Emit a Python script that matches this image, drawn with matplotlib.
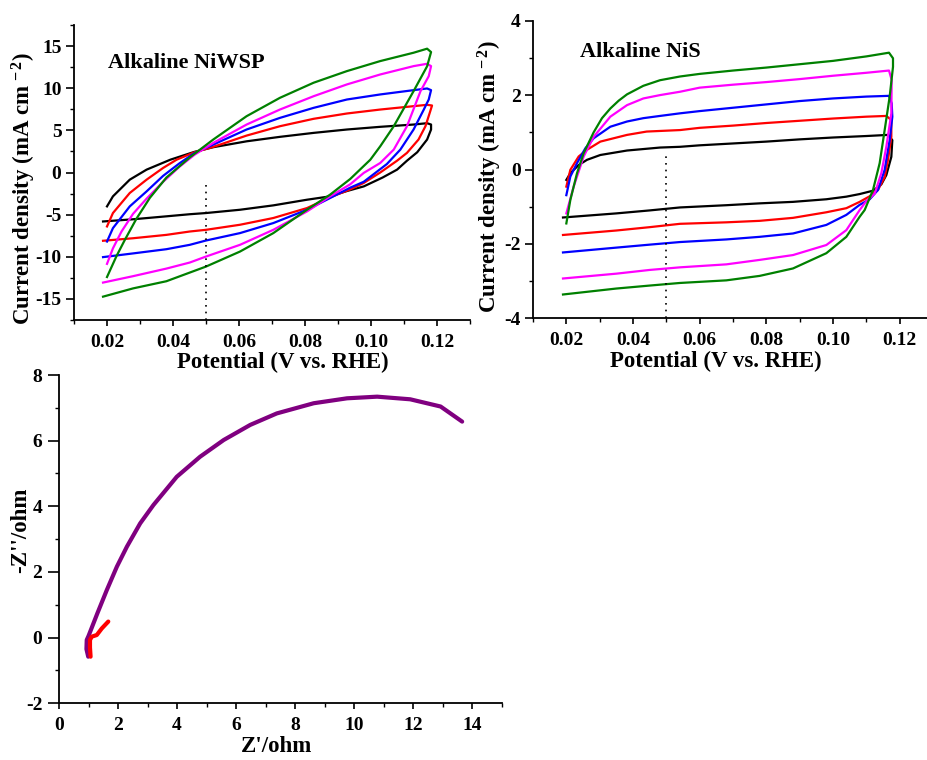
import matplotlib
matplotlib.use("Agg")
import matplotlib.pyplot as plt
from matplotlib.ticker import MultipleLocator, FormatStrFormatter

plt.rcParams['font.family'] = ['Liberation Serif', 'DejaVu Serif']
plt.rcParams['font.weight'] = 'bold'
plt.rcParams['axes.unicode_minus'] = False
plt.rcParams['mathtext.fontset'] = 'custom'
plt.rcParams['mathtext.rm'] = 'Liberation Serif:bold'
plt.rcParams['mathtext.bf'] = 'Liberation Serif:bold'
plt.rcParams['mathtext.it'] = 'Liberation Serif:bold:italic'

# ---------------- Data: Alkaline NiWSP (CV) ----------------
niwsp_black_x = [0.020, 0.0218, 0.0269, 0.032, 0.0392, 0.0465, 0.0522, 0.0623, 0.0724, 0.0826, 0.0927, 0.1028, 0.1129, 0.117,
                 0.1182, 0.1182, 0.117, 0.114, 0.1109, 0.1079, 0.1035, 0.0978, 0.0927, 0.0876, 0.0806, 0.0704, 0.0603, 0.050, 0.0451, 0.038, 0.0279, 0.0188]
niwsp_black_y = [-4.02, -2.83, -0.85, 0.34, 1.52, 2.45, 3.0, 3.7, 4.23, 4.7, 5.1, 5.42, 5.69, 5.85,
                 5.69, 5.1, 3.91, 2.4, 1.4, 0.34, -0.6, -1.65, -2.2, -2.83, -3.23, -3.9, -4.42, -4.81, -4.95, -5.2, -5.55, -5.81]

niwsp_red_x = [0.020, 0.0218, 0.0269, 0.032, 0.037, 0.0411, 0.0465, 0.0522, 0.0623, 0.0724, 0.0826, 0.0927, 0.1028, 0.1129, 0.117,
               0.1185, 0.1178, 0.1165, 0.1144, 0.1109, 0.1079, 0.1028, 0.0978, 0.0937, 0.0876, 0.0806, 0.0704, 0.0603, 0.050, 0.0451, 0.038, 0.0279, 0.0188]
niwsp_red_y = [-6.4, -4.81, -2.43, -0.85, 0.54, 1.52, 2.4, 3.04, 4.38, 5.49, 6.37, 7.0, 7.47, 7.87, 8.03,
               7.95, 7.08, 5.49, 3.91, 2.33, 1.4, 0.0, -1.24, -2.0, -2.95, -4.22, -5.4, -6.2, -6.8, -7.0, -7.4, -7.8, -8.1]

niwsp_blue_x = [0.020, 0.0218, 0.0269, 0.032, 0.037, 0.042, 0.0465, 0.0522, 0.0623, 0.0724, 0.0826, 0.0927, 0.1028, 0.1129, 0.117,
                0.1182, 0.1175, 0.116, 0.1129, 0.1089, 0.1048, 0.0978, 0.0937, 0.0876, 0.0806, 0.0704, 0.0603, 0.050, 0.0451, 0.038, 0.0279, 0.0188]
niwsp_blue_y = [-8.19, -6.6, -4.02, -2.24, -0.4, 1.1, 2.3, 3.31, 5.1, 6.48, 7.67, 8.66, 9.26, 9.77, 9.97,
                9.77, 8.66, 7.47, 5.1, 2.72, 1.0, -1.1, -1.8, -3.03, -4.42, -6.0, -7.19, -8.07, -8.58, -9.1, -9.6, -10.04]

niwsp_magenta_x = [0.020, 0.0218, 0.0244, 0.0279, 0.032, 0.037, 0.042, 0.0465, 0.0522, 0.0623, 0.0724, 0.0826, 0.0927, 0.1028, 0.1129, 0.117,
                   0.1182, 0.1175, 0.115, 0.1109, 0.1069, 0.1028, 0.0978, 0.0937, 0.0876, 0.0806, 0.0704, 0.0603, 0.050, 0.0451, 0.038, 0.0279, 0.0188]
niwsp_magenta_y = [-10.84, -9.0, -7.0, -4.9, -3.1, -1.1, 0.7, 2.1, 3.51, 5.69, 7.47, 9.05, 10.45, 11.63, 12.62, 12.9,
                   12.62, 11.43, 9.65, 5.49, 2.72, 1.13, -0.05, -1.4, -2.83, -4.62, -6.8, -8.58, -9.97, -10.68, -11.4, -12.3, -13.06]

niwsp_green_x = [0.020, 0.0229, 0.0254, 0.0289, 0.033, 0.038, 0.0451, 0.0522, 0.0623, 0.0724, 0.0826, 0.0927, 0.1028, 0.1129, 0.117,
                 0.1182, 0.117, 0.1129, 0.1069, 0.1028, 0.0998, 0.0937, 0.0876, 0.0806, 0.0704, 0.0603, 0.050, 0.0451, 0.038, 0.0279, 0.0188]
niwsp_green_y = [-12.4, -9.9, -8.0, -5.5, -3.0, -0.6, 1.8, 3.91, 6.68, 8.86, 10.65, 12.03, 13.22, 14.21, 14.69,
                 14.29, 12.6, 9.65, 5.49, 3.11, 1.52, -0.77, -2.63, -4.42, -7.19, -9.38, -11.16, -11.87, -12.9, -13.75, -14.73]

# ---------------- Data: Alkaline NiS (CV) ----------------
nis_black_x = [0.020, 0.0212, 0.0237, 0.0262, 0.0302, 0.0382, 0.0481, 0.0541, 0.06, 0.07, 0.08, 0.09, 0.10, 0.11, 0.1165,
               0.1178, 0.1175, 0.116, 0.1145, 0.112, 0.108, 0.104, 0.098, 0.088, 0.078, 0.068, 0.0541, 0.045, 0.035, 0.019]
nis_black_y = [-0.28, -0.1, 0.12, 0.26, 0.39, 0.51, 0.59, 0.61, 0.65, 0.7, 0.75, 0.81, 0.86, 0.9, 0.93,
               0.79, 0.34, -0.15, -0.4, -0.57, -0.66, -0.73, -0.80, -0.87, -0.91, -0.96, -1.02, -1.1, -1.18, -1.29]

nis_red_x = [0.020, 0.0212, 0.0237, 0.0262, 0.0302, 0.0382, 0.0441, 0.0541, 0.06, 0.07, 0.08, 0.09, 0.10, 0.11, 0.116,
             0.1175, 0.1175, 0.1165, 0.1155, 0.1135, 0.111, 0.108, 0.104, 0.098, 0.088, 0.078, 0.068, 0.0541, 0.045, 0.035, 0.019]
nis_red_y = [-0.46, -0.01, 0.35, 0.53, 0.75, 0.93, 1.02, 1.06, 1.12, 1.18, 1.25, 1.31, 1.37, 1.42, 1.44,
             1.33, 0.88, 0.26, -0.2, -0.55, -0.72, -0.87, -1.04, -1.15, -1.30, -1.38, -1.42, -1.46, -1.55, -1.64, -1.76]

nis_blue_x = [0.020, 0.0212, 0.0232, 0.0257, 0.0282, 0.0332, 0.0382, 0.0431, 0.0481, 0.0541, 0.06, 0.07, 0.08, 0.09, 0.10, 0.11, 0.1168,
              0.1176, 0.1178, 0.117, 0.1155, 0.1135, 0.111, 0.108, 0.104, 0.098, 0.088, 0.078, 0.068, 0.0541, 0.045, 0.035, 0.019]
nis_blue_y = [-0.69, -0.19, 0.17, 0.57, 0.84, 1.15, 1.29, 1.38, 1.44, 1.51, 1.57, 1.66, 1.75, 1.84, 1.91, 1.96, 1.98,
              1.78, 1.42, 0.79, -0.01, -0.55, -0.8, -0.95, -1.22, -1.49, -1.72, -1.81, -1.88, -1.95, -2.02, -2.1, -2.23]

nis_magenta_x = [0.020, 0.0222, 0.0252, 0.0282, 0.0332, 0.0382, 0.0431, 0.0481, 0.0541, 0.06, 0.07, 0.08, 0.09, 0.10, 0.11, 0.1168,
                 0.1176, 0.1175, 0.116, 0.1145, 0.1125, 0.110, 0.108, 0.104, 0.098, 0.088, 0.078, 0.068, 0.0541, 0.045, 0.035, 0.019]
nis_magenta_y = [-1.18, -0.46, 0.35, 0.88, 1.42, 1.73, 1.91, 2.0, 2.09, 2.2, 2.28, 2.35, 2.43, 2.52, 2.6, 2.66,
                 2.41, 1.51, 0.61, -0.1, -0.65, -0.85, -1.09, -1.63, -2.03, -2.30, -2.43, -2.55, -2.63, -2.7, -2.8, -2.93]

nis_green_x = [0.020, 0.0212, 0.0232, 0.0252, 0.0282, 0.0307, 0.0332, 0.0357, 0.0382, 0.0431, 0.0481, 0.0541, 0.06, 0.07, 0.08, 0.09, 0.10, 0.11, 0.1168,
               0.118, 0.118, 0.117, 0.1155, 0.114, 0.112, 0.1095, 0.108, 0.104, 0.098, 0.088, 0.078, 0.068, 0.0541, 0.045, 0.035, 0.019]
nis_green_y = [-1.45, -0.82, -0.10, 0.44, 1.0, 1.38, 1.64, 1.85, 2.02, 2.25, 2.4, 2.5, 2.57, 2.66, 2.74, 2.83, 2.92, 3.04, 3.14,
               2.99, 2.76, 1.96, 1.06, 0.17, -0.55, -1.09, -1.27, -1.81, -2.25, -2.66, -2.86, -2.98, -3.05, -3.12, -3.2, -3.36]

# ---------------- Data: Nyquist ----------------
nyq_purple_x = [0.99, 0.93, 0.94, 1.0, 1.3, 1.62, 1.96, 2.3, 2.75, 3.2, 3.99, 4.78, 5.58, 6.48, 7.38, 8.63, 9.76, 10.78, 11.9, 12.93, 13.66]
nyq_purple_y = [-0.58, -0.35, -0.07, 0.05, 0.74, 1.45, 2.16, 2.77, 3.48, 4.04, 4.9, 5.51, 6.02, 6.48, 6.83, 7.14, 7.29, 7.34, 7.26, 7.04, 6.58]
nyq_red_x = [1.07, 1.05, 1.05, 1.11, 1.28, 1.45, 1.67]
nyq_red_y = [-0.58, -0.3, -0.07, 0.03, 0.08, 0.28, 0.49]

dotted_x = 0.05
dotted1_y = [-17.5, -1.5]
dotted2_y = [-4.0, 0.4]

cv_colors = ['black', '#ff0000', '#0000ff', '#ff00ff', '#008000']

W, H = 928, 760
fig = plt.figure(figsize=(W / 100, H / 100), dpi=100)

TICK_FS = 14
LABEL_FS = 16.5
NOTE_FS = 16


def px_axes(l, t, r, b):
    return fig.add_axes([l / W, 1 - b / H, (r - l) / W, (b - t) / H])


def style(ax):
    for s in ['top', 'right']:
        ax.spines[s].set_visible(False)
    for s in ['left', 'bottom']:
        ax.spines[s].set_linewidth(1.3)
    ax.tick_params(which='major', direction='out', length=5, width=1.2, labelsize=TICK_FS)
    ax.tick_params(which='minor', direction='out', length=3, width=1.0)
    ax.tick_params(axis='x', which='major', length=4, pad=6)
    ax.tick_params(axis='y', which='major', length=6, pad=3)
    for lab in ax.get_xticklabels() + ax.get_yticklabels():
        lab.set_fontweight('bold')


ylab = 'Current density (mA cm$^{\\,-2}$)'
xlab = 'Potential (V vs. RHE)'

# Panel 1
ax1 = px_axes(74, 25, 470, 320)
for xs, ys, c in zip([niwsp_black_x, niwsp_red_x, niwsp_blue_x, niwsp_magenta_x, niwsp_green_x],
                     [niwsp_black_y, niwsp_red_y, niwsp_blue_y, niwsp_magenta_y, niwsp_green_y], cv_colors):
    ax1.plot(xs, ys, color=c, lw=1.6, solid_joinstyle='round')
ax1.plot([dotted_x, dotted_x], dotted1_y, color='black', lw=1.2, ls=(0, (1, 3)))
ax1.set_xlim(0.01, 0.13)
ax1.set_ylim(-17.5, 17.5)
ax1.set_xticks([0.02, 0.04, 0.06, 0.08, 0.10, 0.12])
ax1.xaxis.set_minor_locator(MultipleLocator(0.01))
ax1.yaxis.set_major_locator(MultipleLocator(5))
ax1.yaxis.set_minor_locator(MultipleLocator(2.5))
ax1.xaxis.set_major_formatter(FormatStrFormatter('%.2f'))
style(ax1)
ax1.set_xlabel(xlab, fontsize=LABEL_FS, fontweight='bold')
ax1.set_ylabel(ylab, fontsize=LABEL_FS, fontweight='bold')
ax1.xaxis.set_label_coords(0.528, -0.108)
ax1.yaxis.set_label_coords(-0.091, 0.447)
ax1.text(0.086, 0.871, 'Alkaline NiWSP', transform=ax1.transAxes, fontsize=NOTE_FS, fontweight='bold', va='center')

# Panel 2
ax2 = px_axes(533, 20.7, 933, 318.3)
for xs, ys, c in zip([nis_black_x, nis_red_x, nis_blue_x, nis_magenta_x, nis_green_x],
                     [nis_black_y, nis_red_y, nis_blue_y, nis_magenta_y, nis_green_y], cv_colors):
    ax2.plot(xs, ys, color=c, lw=1.6, solid_joinstyle='round')
ax2.plot([dotted_x, dotted_x], dotted2_y, color='black', lw=1.2, ls=(0, (1, 3)))
ax2.set_xlim(0.01, 0.13)
ax2.set_ylim(-4, 4)
ax2.set_xticks([0.02, 0.04, 0.06, 0.08, 0.10, 0.12])
ax2.xaxis.set_minor_locator(MultipleLocator(0.01))
ax2.yaxis.set_major_locator(MultipleLocator(2))
ax2.yaxis.set_minor_locator(MultipleLocator(1))
ax2.xaxis.set_major_formatter(FormatStrFormatter('%.2f'))
style(ax2)
ax2.set_xlabel(xlab, fontsize=LABEL_FS, fontweight='bold')
ax2.set_ylabel(ylab, fontsize=LABEL_FS, fontweight='bold')
ax2.xaxis.set_label_coords(0.457, -0.108)
ax2.yaxis.set_label_coords(-0.073, 0.475)
ax2.text(0.1175, 0.895, 'Alkaline NiS', transform=ax2.transAxes, fontsize=NOTE_FS, fontweight='bold', va='center')

# Panel 3
ax3 = px_axes(59, 375, 501.7, 703.3)
ax3.plot(nyq_purple_x, nyq_purple_y, color='#800080', lw=3, solid_capstyle='round', solid_joinstyle='round')
ax3.plot(nyq_red_x, nyq_red_y, color='#ff0000', lw=3, solid_capstyle='round', solid_joinstyle='round')
ax3.set_xlim(0, 15)
ax3.set_ylim(-2, 8)
ax3.xaxis.set_major_locator(MultipleLocator(2))
ax3.xaxis.set_minor_locator(MultipleLocator(1))
ax3.yaxis.set_major_locator(MultipleLocator(2))
ax3.yaxis.set_minor_locator(MultipleLocator(1))
style(ax3)
ax3.tick_params(axis='y', which='major', length=8, pad=4)
ax3.set_xlabel("Z'/ohm", fontsize=LABEL_FS, fontweight='bold')
ax3.set_ylabel("-Z''/ohm", fontsize=LABEL_FS, fontweight='bold')
ax3.xaxis.set_label_coords(0.492, -0.1)
ax3.yaxis.set_label_coords(-0.062, 0.528)

fig.savefig('out.png', dpi=100)
